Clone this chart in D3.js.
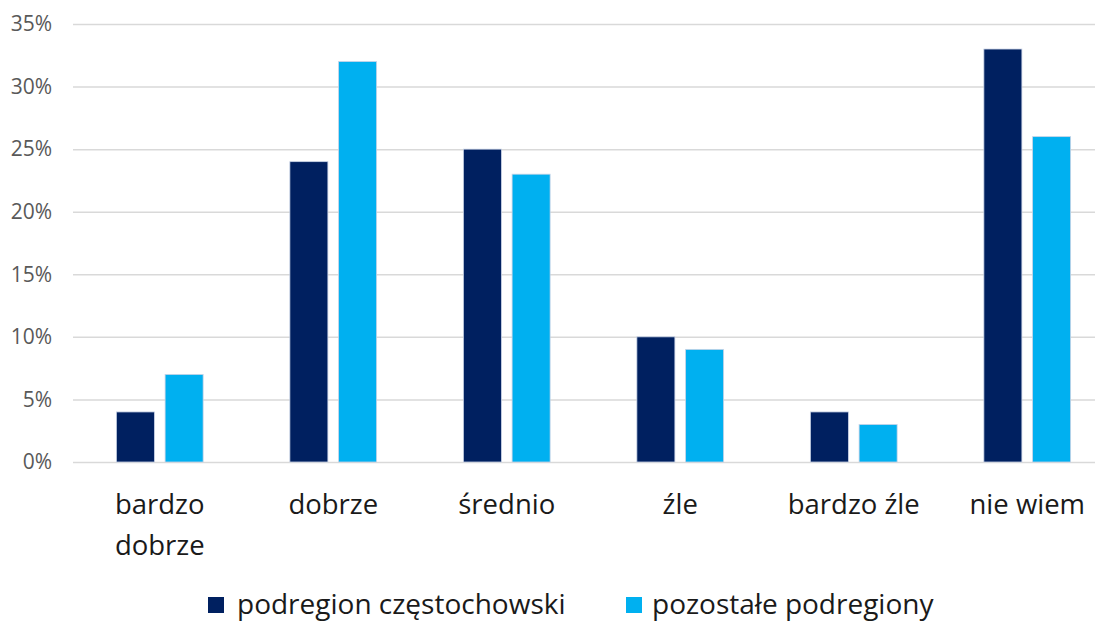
<!DOCTYPE html>
<html>
<head>
<meta charset="utf-8">
<script src="https://cdn.jsdelivr.net/npm/d3@7"></script>
<style>
  body { margin: 0; background: #fff; }
  svg { display: block; }
  text { font-family: "Open Sans", sans-serif; }
</style>
</head>
<body>
<svg id="chart" width="1105" height="621"></svg>
<script>
const categories = ['bardzo dobrze', 'dobrze', 'średnio', 'źle', 'bardzo źle', 'nie wiem']
const seriesNames = ['podregion częstochowski', 'pozostałe podregiony']
const czestochowski = [4, 24, 25, 10, 4, 33]
const pozostale = [7, 32, 23, 9, 3, 26]
const yTicks = [0, 5, 10, 15, 20, 25, 30, 35]
const colors = ['#002060', '#00b0f0']

const data = categories.map((c, i) => ({cat: c, values: [czestochowski[i], pozostale[i]]}))

const svg = d3.select('#chart')
const width = 1105, height = 621
const plot = {left: 73, right: 1095, top: 24, bottom: 462}

// x scales (groups sit a bit right of centre, as in the original)
const x = d3.scaleBand()
  .domain(categories)
  .range([73, 1114])
  .paddingInner(0.5)
  .paddingOuter(0.25)

const xs = d3.scaleBand()
  .domain(d3.range(seriesNames.length))
  .range([0, x.bandwidth()])
  .paddingInner(0.22)

// y scale
const y = d3.scaleLinear()
  .domain([0, 35])
  .range([plot.bottom, plot.top])

// gridlines + tick labels
const yAxis = svg.append('g')
  .attr('transform', 'translate(' + plot.left + ',0)')
  .call(d3.axisLeft(y).tickValues(yTicks).tickFormat(d => d + '%')
    .tickSize(-(plot.right - plot.left)).tickPadding(21))
yAxis.select('.domain').remove()
yAxis.selectAll('.tick line').attr('stroke', '#d9d9d9').attr('stroke-width', 1.5)
yAxis.selectAll('.tick text')
  .attr('fill', '#595959')
  .style('font-family', '"Open Sans", sans-serif')
  .style('font-size', '21px')

// bars
svg.append('g')
  .selectAll('g')
  .data(data)
  .join('g')
    .attr('transform', d => 'translate(' + x(d.cat) + ',0)')
  .selectAll('rect')
  .data(d => d.values.map((v, i) => ({v, i})))
  .join('rect')
    .attr('x', d => xs(d.i))
    .attr('y', d => y(d.v))
    .attr('width', xs.bandwidth())
    .attr('height', d => y(0) - y(d.v))
    .attr('fill', d => colors[d.i])
    .attr('stroke', '#c9d3e6')
    .attr('stroke-width', 0.8)

// category labels
const xAxis = svg.append('g')
  .attr('transform', 'translate(0,' + plot.bottom + ')')
  .call(d3.axisBottom(x).tickSize(0).tickPadding(0))
xAxis.select('.domain').remove()
xAxis.selectAll('.tick text')
  .attr('fill', '#1a1a1a')
  .attr('y', 52)
  .attr('dy', 0)
  .style('font-family', '"Open Sans", sans-serif')
  .style('font-size', '27.5px')
  .each(function(d) {
    const t = d3.select(this)
    if (this.getComputedTextLength() > x.step() - 10) {
      const words = d.split(' ')
      t.text(null)
      words.forEach((w, i) => {
        t.append('tspan').attr('x', 0).attr('y', 52 + i * 41).text(w)
      })
    }
  })

// legend
const legend = svg.append('g').attr('transform', 'translate(0,605)')
const lx = [208, 626]
seriesNames.forEach((name, i) => {
  const g = legend.append('g').attr('transform', 'translate(' + lx[i] + ',0)')
  g.append('rect').attr('x', 0).attr('y', -8).attr('width', 16).attr('height', 16).attr('fill', colors[i])
  g.append('text').attr('x', i ? 26 : 29).attr('y', 8.5).attr('fill', '#1a1a1a')
    .style('font-size', '28px').text(name)
})
</script>
</body>
</html>
